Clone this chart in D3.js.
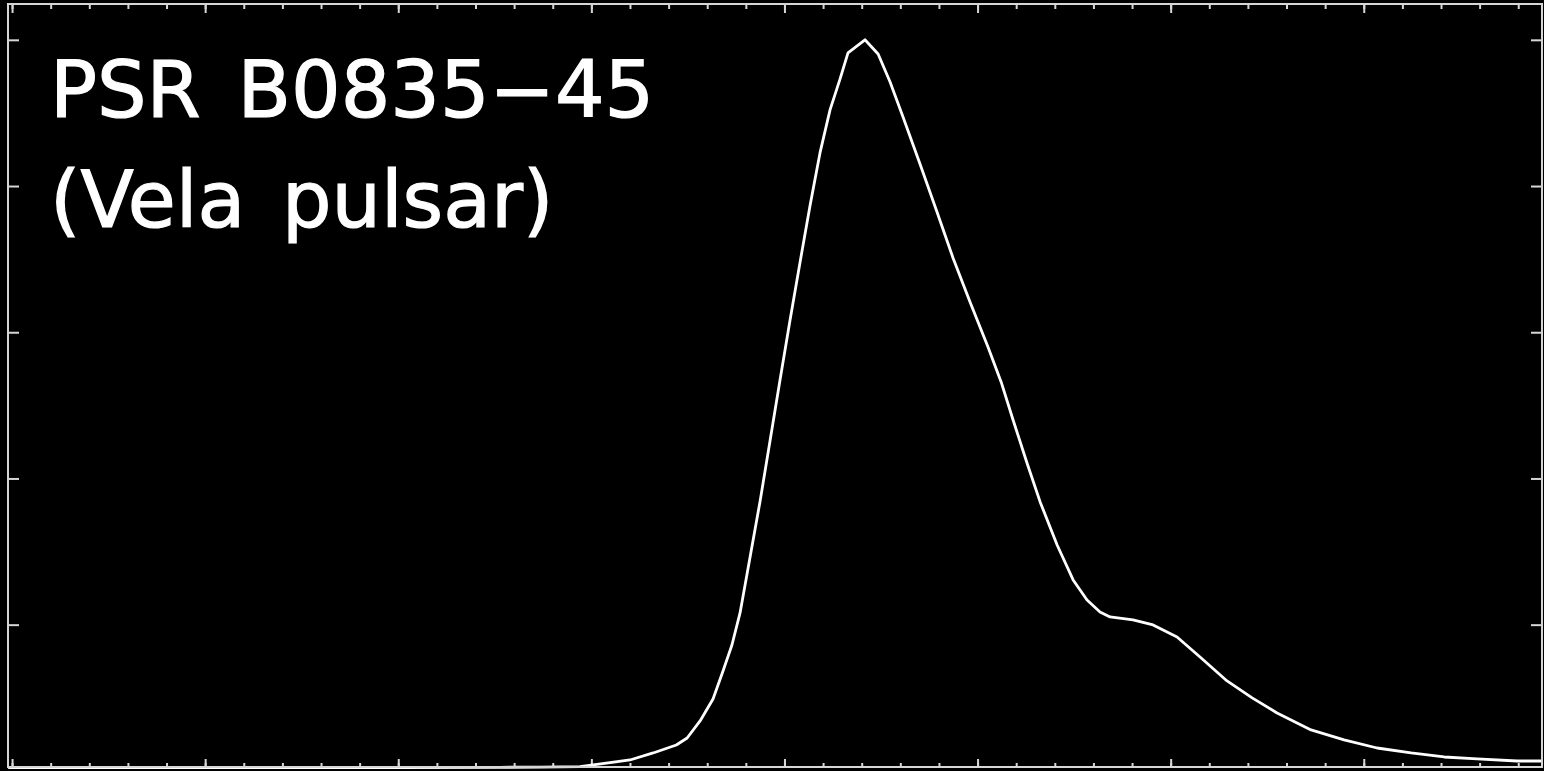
<!DOCTYPE html>
<html>
<head>
<meta charset="utf-8">
<script src="https://cdn.jsdelivr.net/npm/d3@7"></script>
<style>
  html, body { margin: 0; padding: 0; background: #000; }
  svg { display: block; }
</style>
</head>
<body>
<svg id="chart"></svg>
<script>
// pulse profile (phase, normalised intensity)
const phase = [
  -0.002, 0.05, 0.10, 0.15, 0.20, 0.2527, 0.2734, 0.2941, 0.320, 0.332,
  0.344, 0.3496, 0.3563, 0.363, 0.368, 0.3728, 0.3770, 0.3822, 0.3874, 0.3926,
  0.3977, 0.4029, 0.4081, 0.4133, 0.4184, 0.4236, 0.4288, 0.4329, 0.4417, 0.4485,
  0.4547, 0.4614, 0.4702, 0.4790, 0.4873, 0.4961, 0.5054, 0.5122, 0.5184, 0.5256,
  0.5324, 0.5412, 0.5495, 0.5567, 0.5634, 0.5686, 0.5805, 0.5909, 0.6033, 0.6152,
  0.6292, 0.6422, 0.6551, 0.6727, 0.6898, 0.7069, 0.7245, 0.7416, 0.7587, 0.7794,
  0.7923
];
const intensity = [
  0.0045, 0.0045, 0.0045, 0.0045, 0.0046, 0.0049, 0.0052, 0.0057, 0.0149, 0.0245,
  0.0354, 0.045, 0.0683, 0.0984, 0.1353, 0.1722, 0.2160, 0.2925, 0.3692, 0.4527,
  0.5347, 0.6168, 0.6962, 0.7741, 0.8453, 0.9041, 0.9465, 0.9821, 1.0, 0.9807,
  0.9424, 0.8945, 0.8302, 0.7645, 0.7016, 0.6414, 0.5799, 0.5320, 0.4800, 0.4212,
  0.3679, 0.3090, 0.2612, 0.2338, 0.2174, 0.2106, 0.2065, 0.1996, 0.1832, 0.1558,
  0.123, 0.0998, 0.0792, 0.056, 0.0423, 0.0313, 0.0245, 0.019, 0.0163, 0.0135,
  0.0135
];

const xMajorTicks = [0, 0.1, 0.2, 0.3, 0.4, 0.5, 0.6, 0.7];
const xMinorTicks = d3.range(0, 40).map(i => i * 0.02).filter(v => v <= 0.785);
const yTicks = [0.2, 0.4, 0.6, 0.8, 1.0];
const labelLines = ['PSR B0835\u221245', '(Vela pulsar)'];

const width = 1544;
const height = 771;
const frame = { left: 8, right: 1542, top: 4, bottom: 767 };

const svg = d3.select('#chart')
  .attr('width', width)
  .attr('height', height);

svg.append('rect')
  .attr('width', width)
  .attr('height', height)
  .attr('fill', '#000');

const xScale = d3.scaleLinear()
  .domain([-0.0021, 0.7923])
  .range([frame.left, frame.right]);

const yScale = d3.scaleLinear()
  .domain([0.0053, 1.049])
  .range([frame.bottom, frame.top]);

const data = phase.map((p, i) => ({ x: p, y: intensity[i] }));

// inward ticks on all four sides, no labels
const tickColor = '#d6d6d6';
function drawAxis(axis, tx, ty) {
  const g = svg.append('g')
    .attr('transform', `translate(${tx},${ty})`)
    .call(axis.tickFormat(''));
  g.select('.domain').remove();
  g.selectAll('line')
    .attr('stroke', tickColor)
    .attr('stroke-width', 2);
}

drawAxis(d3.axisBottom(xScale).tickValues(xMinorTicks).tickSize(-4).tickSizeOuter(0), 0, frame.bottom);
drawAxis(d3.axisBottom(xScale).tickValues(xMajorTicks).tickSize(-8).tickSizeOuter(0), 0, frame.bottom);
drawAxis(d3.axisTop(xScale).tickValues(xMinorTicks).tickSize(-5).tickSizeOuter(0), 0, frame.top);
drawAxis(d3.axisTop(xScale).tickValues(xMajorTicks).tickSize(-9).tickSizeOuter(0), 0, frame.top);
drawAxis(d3.axisLeft(yScale).tickValues(yTicks).tickSize(-11).tickSizeOuter(0), frame.left, 0);
drawAxis(d3.axisRight(yScale).tickValues(yTicks).tickSize(-11).tickSizeOuter(0), frame.right, 0);

// profile
const lineGenerator = d3.line()
  .x(d => xScale(d.x))
  .y(d => yScale(d.y));

svg.append('path')
  .datum(data)
  .attr('fill', 'none')
  .attr('stroke', '#fff')
  .attr('stroke-width', 2.8)
  .attr('stroke-linejoin', 'round')
  .attr('d', lineGenerator);

// frame
svg.append('rect')
  .attr('x', frame.left)
  .attr('y', frame.top)
  .attr('width', frame.right - frame.left)
  .attr('height', frame.bottom - frame.top)
  .attr('fill', 'none')
  .attr('stroke', tickColor)
  .attr('stroke-width', 2);

// label
svg.append('g')
  .selectAll('text')
  .data(labelLines)
  .join('text')
  .attr('x', 50)
  .attr('y', (d, i) => 117 + i * 110)
  .attr('fill', '#fff')
  .attr('stroke', '#fff')
  .attr('stroke-width', 1.2)
  .attr('word-spacing', 12)
  .attr('font-family', 'DejaVu Sans, sans-serif')
  .attr('font-size', 78)
  .text(d => d);
</script>
</body>
</html>
